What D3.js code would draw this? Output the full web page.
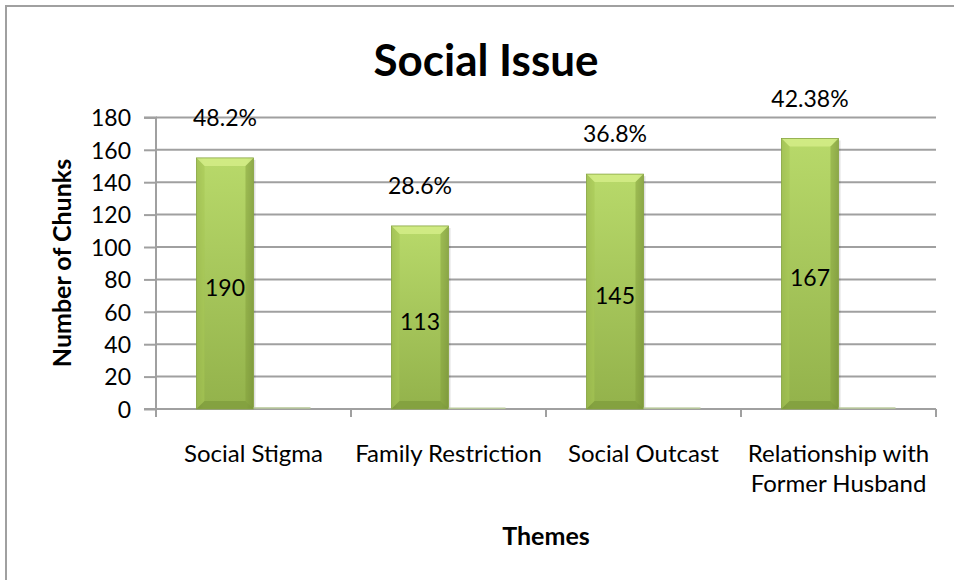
<!DOCTYPE html>
<html><head><meta charset="utf-8">
<script src="https://cdn.jsdelivr.net/npm/d3@7"></script>
<style>body{margin:0;background:#fff}svg{display:block}text{font-family:Lato,"Open Sans",sans-serif}</style>
</head><body><svg id="c" width="954" height="580"></svg>
<script>
const categories = ["Social Stigma","Family Restriction","Social Outcast","Relationship with|Former Husband"];
const chunkValues = [155, 113, 145, 167];
const chunkLabels = ["190","113","145","167"];
const percentValues = [0.482, 0.286, 0.368, 0.4238];
const percentLabels = ["48.2%","28.6%","36.8%","42.38%"];
const yTicks = [0,20,40,60,80,100,120,140,160,180];

const svg = d3.select("#c");
const defs = svg.append("defs");
const g1 = defs.append("linearGradient").attr("id","gv").attr("x1",0).attr("y1",0).attr("x2",0).attr("y2",1);
g1.append("stop").attr("offset","0%").attr("stop-color","#b8d96a");
g1.append("stop").attr("offset","100%").attr("stop-color","#93b24b");
const g2 = defs.append("linearGradient").attr("id","gh").attr("x1",0).attr("y1",0).attr("x2",1).attr("y2",0);
g2.append("stop").attr("offset","0%").attr("stop-color","#000").attr("stop-opacity",0.12);
g2.append("stop").attr("offset","12%").attr("stop-color","#000").attr("stop-opacity",0);
g2.append("stop").attr("offset","88%").attr("stop-color","#000").attr("stop-opacity",0);
g2.append("stop").attr("offset","100%").attr("stop-color","#000").attr("stop-opacity",0.15);

// outer border
svg.append("rect").attr("x",6).attr("y",6).attr("width",960).attr("height",600)
  .attr("fill","none").attr("stroke","#a0a0a0").attr("stroke-width",2);

const x0 = 156, x1 = 936, yTop = 117.4, yBot = 409;
const y = d3.scaleLinear().domain([0,180]).range([yBot,yTop]);
const x = d3.scaleBand().domain(categories).range([x0,x1]).paddingInner(0).paddingOuter(0);
const xs = d3.scaleBand().domain(["chunks","pct"]).range([0,x.bandwidth()]).paddingInner(0).paddingOuter(0.71);

// gridlines
svg.append("g").selectAll("line").data(yTicks.filter(d=>d>0)).join("line")
  .attr("x1",x0).attr("x2",x1).attr("y1",d=>y(d)).attr("y2",d=>y(d))
  .attr("stroke","#a0a0a0").attr("stroke-width",2);

// y axis
const ya = svg.append("g").attr("transform",`translate(${x0},0)`)
  .call(d3.axisLeft(y).tickValues(yTicks).tickSize(12).tickPadding(13));
ya.select(".domain").attr("stroke","#a0a0a0").attr("stroke-width",2).attr("d",`M-12,${yTop}H0V${yBot}`);
ya.selectAll(".tick line").attr("stroke","#a0a0a0").attr("stroke-width",2);
ya.selectAll(".tick text").attr("font-size",23).attr("fill","#000").attr("dy","0.36em");

// x axis
svg.append("line").attr("x1",x0-12).attr("x2",x1).attr("y1",yBot).attr("y2",yBot)
  .attr("stroke","#a0a0a0").attr("stroke-width",2);
svg.append("g").selectAll("line").data(d3.range(categories.length+1)).join("line")
  .attr("x1",i=>x0+i*x.bandwidth()).attr("x2",i=>x0+i*x.bandwidth())
  .attr("y1",yBot).attr("y2",yBot+8).attr("stroke","#a0a0a0").attr("stroke-width",2);

// bars
const bw = xs.bandwidth();
categories.forEach((c,i)=>{
  const bx = x(c)+xs("chunks"), by = y(chunkValues[i]), bh = yBot-by;
  const gg = svg.append("g");
  gg.append("rect").attr("x",bx+2).attr("y",by+2).attr("width",bw).attr("height",bh-2).attr("fill","#000").attr("opacity",0.12);
  gg.append("rect").attr("x",bx).attr("y",by).attr("width",bw).attr("height",bh).attr("fill","url(#gv)");
  gg.append("rect").attr("x",bx).attr("y",by).attr("width",bw).attr("height",bh).attr("fill","url(#gh)");
  const b = 8;
  gg.append("path").attr("d",`M${bx},${by}H${bx+bw}L${bx+bw-b},${by+b}H${bx+b}Z`).attr("fill","#d6ef8a").attr("opacity",0.8);
  gg.append("path").attr("d",`M${bx},${by}L${bx+b},${by+b}V${yBot-b}L${bx},${yBot}Z`).attr("fill","#a6c655").attr("opacity",0.6);
  gg.append("path").attr("d",`M${bx+bw},${by}L${bx+bw-b},${by+b}V${yBot-b}L${bx+bw},${yBot}Z`).attr("fill","#7f9c3a").attr("opacity",0.5);
  gg.append("path").attr("d",`M${bx},${yBot}L${bx+b},${yBot-b}H${bx+bw-b}L${bx+bw},${yBot}Z`).attr("fill","#7a9638").attr("opacity",0.6);
  gg.append("rect").attr("x",bx).attr("y",by).attr("width",bw).attr("height",bh).attr("fill","none").attr("stroke","#88a543").attr("stroke-width",0.8);
  // percent series (fractions, nearly invisible)
  const px = x(c)+xs("pct");
  svg.append("rect").attr("x",px).attr("y",y(percentValues[i])-1).attr("width",bw).attr("height",Math.max(1,yBot-y(percentValues[i]))+0.5)
    .attr("fill","#b8c89a");
  // labels
  svg.append("text").attr("x",bx+bw/2).attr("y",(by+yBot)/2+4).attr("text-anchor","middle").attr("dy","0.36em")
    .attr("font-size",23).text(chunkLabels[i]);
  svg.append("text").attr("x",bx+bw/2).attr("y",by-40).attr("text-anchor","middle").attr("dy","0.36em")
    .attr("font-size",23).text(percentLabels[i]);
});

// category labels
categories.forEach(c=>{
  const lines = c.split("|");
  const t = svg.append("text").attr("x",x(c)+x.bandwidth()/2).attr("y",462).attr("text-anchor","middle").attr("font-size",24);
  lines.forEach((l,k)=>t.append("tspan").attr("x",x(c)+x.bandwidth()/2).attr("dy",k?30:0).text(l));
});

// titles
svg.append("text").attr("x",486).attr("y",76).attr("text-anchor","middle").attr("font-size",44).attr("font-weight","bold").text("Social Issue");
svg.append("text").attr("x",546).attr("y",545).attr("text-anchor","middle").attr("font-size",25).attr("font-weight","bold").text("Themes");
svg.append("text").attr("transform","translate(71,263) rotate(-90)").attr("text-anchor","middle").attr("font-size",25).attr("font-weight","bold").text("Number of Chunks");
</script></body></html>
